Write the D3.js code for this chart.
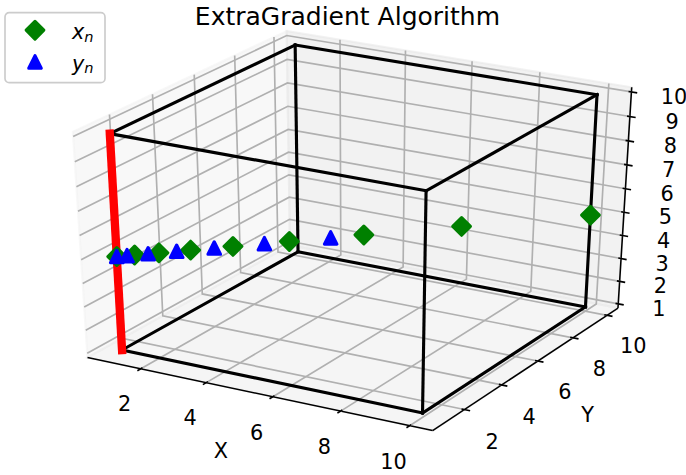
<!DOCTYPE html>
<html>
<head>
<meta charset="utf-8">
<script src="https://cdn.jsdelivr.net/npm/d3@7/dist/d3.min.js"></script>
<style>
  body { margin: 0; background: #fff; }
  svg text { font-family: "DejaVu Sans", sans-serif; fill: #000; }
</style>
</head>
<body>
<svg id="chart" width="686" height="475"></svg>
<script>
/* ExtraGradient iterates drawn in a matplotlib-like 3D box */

//text
var titleText = "ExtraGradient Algorithm";
var xLabel = "X", yLabel = "Y";

//tick values
var xTicks = [2, 4, 6, 8, 10];
var yTicks = [2, 4, 6, 8, 10];
var zTicks = [1, 2, 3, 4, 5, 6, 7, 8, 9, 10];

//box [1,10]^3 corners
var cubeX = [1, 10];
var cubeY = [1, 10];
var cubeZ = [1, 10];

//red edge
var redX = [1, 1];
var redY = [1, 1];
var redZ = [1, 10];

//x_n iterates (green diamonds)
var xnX = [10, 7.5, 5.63, 4.22, 3.16, 2.37, 1.78, 1.33, 1.0];
var xnY = [10, 7.5, 5.63, 4.22, 3.16, 2.37, 1.78, 1.33, 1.0];
var xnZ = [5, 5, 5, 5, 5, 5, 5, 5, 5];

//y_n iterates (blue triangles)
var ynX = [5, 3.75, 2.81, 2.11, 1.58, 1.19, 1.0];
var ynY = [5, 3.75, 2.81, 2.11, 1.58, 1.19, 1.0];
var ynZ = [5, 5, 5, 5, 5, 5, 5];

//view
var elev = 30, azim = -60, dist = 10;
var ptPx = 150 / 72;

var svg = d3.select("#chart");

//axis limits (x, y with 5% margin, z tight)
function pad(ext, m){
    var d = (ext[1] - ext[0]) * m;
    return [ext[0] - d, ext[1] + d];
}
var xlim = pad(d3.extent(cubeX.concat(redX, xnX, ynX)), 0.05);
var ylim = pad(d3.extent(cubeY.concat(redY, xnY, ynY)), 0.05);
var zlim = pad(d3.extent(cubeZ.concat(redZ, xnZ, ynZ)), 0);
var lims = [xlim, ylim, zlim];

//data -> unit cube
var wx = d3.scaleLinear().domain(xlim).range([0, 1]);
var wy = d3.scaleLinear().domain(ylim).range([0, 1]);
var wz = d3.scaleLinear().domain(zlim).range([0, 1]);

//projected plane -> pixels
var axLeft = -6.3, axRight = 701.2, axTop = 1.15, axBottom = 458.6;
var sx = d3.scaleLinear().domain([-0.095, 0.09]).range([axLeft, axRight]);
var sy = d3.scaleLinear().domain([-0.095, 0.09]).range([axBottom, axTop]);

function dot(a, b){ return a[0]*b[0] + a[1]*b[1] + a[2]*b[2]; }
function cross(a, b){
    return [a[1]*b[2] - a[2]*b[1], a[2]*b[0] - a[0]*b[2], a[0]*b[1] - a[1]*b[0]];
}
var er = elev * Math.PI / 180, ar = azim * Math.PI / 180;
var nv = [Math.cos(er)*Math.cos(ar), Math.cos(er)*Math.sin(ar), Math.sin(er)];
var uv = cross([0, 0, 1], nv);
var un = Math.sqrt(dot(uv, uv));
uv = uv.map(function(d){ return d / un; });
var vv = cross(nv, uv);

function proj(p){
    var q = [wx(p[0]) - 0.5, wy(p[1]) - 0.5, wz(p[2]) - 0.5];
    var w = dist - dot(nv, q);
    return [sx(dot(uv, q) / w), sy(dot(vv, q) / w)];
}

var line = d3.line();
function path3(pts){ return line(pts.map(proj)); }

//pane bounds like mplot3d
var mins = lims.map(function(l){ return l[0] - (l[1] - l[0]) / 48; });
var maxs = lims.map(function(l){ return l[1] + (l[1] - l[0]) / 48; });
var deltas = lims.map(function(l){ return (l[1] - l[0]) / 12; });
var centers = lims.map(function(l){ return (l[0] + l[1]) / 2; });
var highs = nv.map(function(d){ return d < 0; });
var minmax = [0, 1, 2].map(function(i){ return highs[i] ? maxs[i] : mins[i]; });
var maxmin = [0, 1, 2].map(function(i){ return highs[i] ? mins[i] : maxs[i]; });

//panes
var paneColors = ["rgba(242,242,242,0.5)", "rgba(230,230,230,0.5)", "rgba(236,236,236,0.5)"];
[0, 1, 2].forEach(function(i){
    var j = (i + 1) % 3, k = (i + 2) % 3;
    var corners = [[mins[j], mins[k]], [maxs[j], mins[k]], [maxs[j], maxs[k]], [mins[j], maxs[k]]];
    var pts = corners.map(function(c){
        var p = [0, 0, 0];
        p[i] = minmax[i]; p[j] = c[0]; p[k] = c[1];
        return p;
    });
    svg.append("path")
        .attr("d", path3(pts) + "Z")
        .attr("fill", paneColors[i])
        .attr("stroke", paneColors[i])
        .attr("stroke-width", ptPx);
});

function moveFromCenter(p, amount, skip){
    return p.map(function(c, i){
        if (i == skip) return c;
        return c < centers[i] ? c - amount * deltas[i] : c + amount * deltas[i];
    });
}

//axes
var dpp = 48 / (72 * ((axRight - axLeft) + (axBottom - axTop)) / 150);
var tickLabOff = (3.5 + 8) * dpp;
var axisLabOff = (4 + 21) * dpp;
var fs = 10 * ptPx;
var juggled = [[1, 0, 2], [0, 1, 2], [0, 2, 1]];
var tickdirs = [1, 0, 0];
var tickSets = [xTicks, yTicks, zTicks];
var labels = [xLabel, yLabel, null];

[0, 1, 2].forEach(function(idx){
    var jg = juggled[idx];
    var e1 = minmax.slice();
    e1[jg[0]] = maxmin[jg[0]];
    var e2 = e1.slice();
    e2[jg[1]] = maxmin[jg[1]];

    //axis line
    svg.append("path")
        .attr("d", path3([e1, e2]))
        .attr("stroke", "#000")
        .attr("stroke-width", 0.75 * ptPx)
        .attr("fill", "none");

    //axis label
    if (labels[idx]){
        var mid = [0, 1, 2].map(function(i){ return (e1[i] + e2[i]) / 2; });
        var lp = proj(moveFromCenter(mid, axisLabOff, idx));
        svg.append("text")
            .attr("x", lp[0])
            .attr("y", lp[1] + 0.276 * fs)
            .attr("text-anchor", "middle")
            .style("font-size", fs + "px")
            .text(labels[idx]);
    }

    //grid
    var i2 = (idx + 1) % 3, i1 = (idx + 2) % 3;
    tickSets[idx].forEach(function(t){
        var p1 = minmax.slice(); p1[idx] = t;
        var p0 = p1.slice(); p0[i1] = maxmin[i1];
        var p2 = p1.slice(); p2[i2] = maxmin[i2];
        svg.append("path")
            .attr("d", path3([p0, p1, p2]))
            .attr("stroke", "#b0b0b0")
            .attr("stroke-width", 0.8 * ptPx)
            .attr("fill", "none");
    });

    //ticks and tick labels
    var td = tickdirs[idx];
    var sign = highs[td] ? 1 : -1;
    tickSets[idx].forEach(function(t){
        var pos = e1.slice(); pos[idx] = t;
        var a = pos.slice(); a[td] = e1[td] + 0.1 * sign * deltas[td];
        var b = pos.slice(); b[td] = e1[td] - 0.2 * sign * deltas[td];
        svg.append("path")
            .attr("d", path3([a, b]))
            .attr("stroke", "#000")
            .attr("stroke-width", 0.8 * ptPx)
            .attr("fill", "none");
        var lp = proj(moveFromCenter(pos, tickLabOff, idx));
        svg.append("text")
            .attr("x", lp[0])
            .attr("y", lp[1] + 0.76 * fs)
            .attr("text-anchor", "middle")
            .style("font-size", fs + "px")
            .text(t);
    });
});

//cube edges
var edges = [];
[0, 1].forEach(function(a){
    [0, 1].forEach(function(b){
        edges.push([[cubeX[0], cubeY[a], cubeZ[b]], [cubeX[1], cubeY[a], cubeZ[b]]]);
        edges.push([[cubeX[a], cubeY[0], cubeZ[b]], [cubeX[a], cubeY[1], cubeZ[b]]]);
        edges.push([[cubeX[a], cubeY[b], cubeZ[0]], [cubeX[a], cubeY[b], cubeZ[1]]]);
    });
});
edges.forEach(function(e){
    svg.append("path")
        .attr("d", path3(e))
        .attr("stroke", "#000")
        .attr("stroke-width", 1.5 * ptPx)
        .attr("stroke-linecap", "square")
        .attr("fill", "none");
});

//red edge
svg.append("path")
    .attr("d", path3(redX.map(function(d, i){ return [d, redY[i], redZ[i]]; })))
    .attr("stroke", "red")
    .attr("stroke-width", 4 * ptPx)
    .attr("stroke-linecap", "square")
    .attr("fill", "none");

//markers
var ms = 6 * ptPx;
var diamond = d3.line()([[0, -ms/Math.SQRT2], [ms/Math.SQRT2, 0], [0, ms/Math.SQRT2], [-ms/Math.SQRT2, 0]]) + "Z";
var triangle = d3.line()([[0, -ms/2], [ms/2, ms/2], [-ms/2, ms/2]]) + "Z";

function drawMarkers(xs, ys, zs, shape, color){
    xs.forEach(function(x, i){
        var p = proj([x, ys[i], zs[i]]);
        svg.append("path")
            .attr("d", shape)
            .attr("transform", "translate(" + p[0] + "," + p[1] + ")")
            .attr("fill", color)
            .attr("stroke", color)
            .attr("stroke-width", 1.5 * ptPx)
            .attr("stroke-linejoin", "round");
    });
}
drawMarkers(xnX, xnY, xnZ, diamond, "green");
drawMarkers(ynX, ynY, ynZ, triangle, "blue");

//title
svg.append("text")
    .attr("x", (axLeft + axRight) / 2)
    .attr("y", axBottom - 0.92 * (axBottom - axTop) - 6 * ptPx)
    .attr("text-anchor", "middle")
    .style("font-size", (12 * ptPx) + "px")
    .text(titleText);

//legend
var leg = svg.append("g").attr("transform", "translate(5,12.7)");
leg.append("rect")
    .attr("width", 100)
    .attr("height", 70)
    .attr("rx", 4.2)
    .attr("fill", "rgba(255,255,255,0.8)")
    .attr("stroke", "#cccccc")
    .attr("stroke-width", 0.8 * ptPx);

var legItems = [
    {sym: "x", shape: diamond, color: "green"},
    {sym: "y", shape: triangle, color: "blue"}
];
legItems.forEach(function(d, i){
    var cy = 17.5 + i * 31.8;
    leg.append("path")
        .attr("d", d.shape)
        .attr("transform", "translate(30," + cy + ")")
        .attr("fill", d.color)
        .attr("stroke", d.color)
        .attr("stroke-width", 1.5 * ptPx)
        .attr("stroke-linejoin", "round");
    var t = leg.append("text")
        .attr("x", 67)
        .attr("y", cy + 8.8)
        .style("font-size", fs + "px");
    t.append("tspan").style("font-style", "italic").text(d.sym);
    t.append("tspan")
        .style("font-style", "italic")
        .style("font-size", (fs * 0.7) + "px")
        .attr("dy", 2.6)
        .text("n");
});
</script>
</body>
</html>
